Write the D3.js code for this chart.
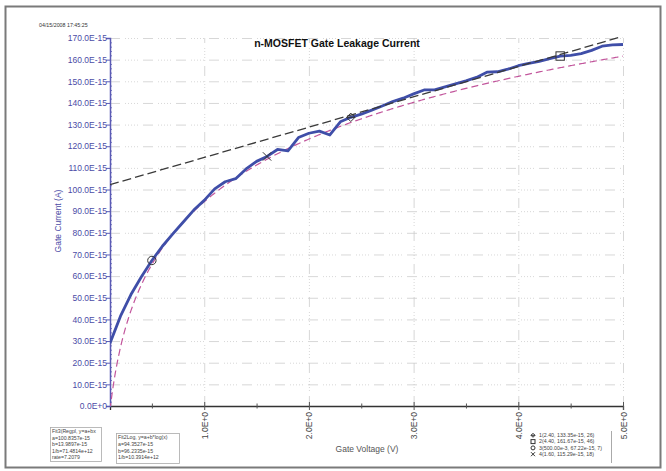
<!DOCTYPE html>
<html><head><meta charset="utf-8">
<script src="https://cdn.jsdelivr.net/npm/d3@7"></script>
<style>body{margin:0;background:#fff}svg{display:block;font-family:"Liberation Sans",Arial,sans-serif}</style>
</head><body><svg id="c" width="666" height="471"></svg>
<script>
// ---- data (currents in units of 1e-15 A) ----
const voltages = [0.1,0.2,0.3,0.4,0.5,0.6,0.7,0.8,0.9,1.0,1.1,1.2,1.3,1.4,1.5,1.6,1.7,1.8,1.9,2.0,2.1,2.2,2.3,2.4,2.5,2.6,2.7,2.8,2.9,3.0,3.1,3.2,3.3,3.4,3.5,3.6,3.7,3.8,3.9,4.0,4.1,4.2,4.3,4.4,4.5,4.6,4.7,4.8,4.9,5.0];
const currents = [29,41.5,51.5,59.7,67.2,73.8,79.5,85,90.5,95,100.3,103.6,105,109.5,113,115.3,118.5,117.9,124,126,127,125.2,131.3,133.35,134.8,136.7,138.6,140.6,142.2,144.2,146,146,147.4,148.8,150.2,151.8,154.2,154.4,155.6,157.2,158.3,159.2,160.5,161.67,162,162.8,164.3,166.2,166.8,167];
const yTicks = [0,10,20,30,40,50,60,70,80,90,100,110,120,130,140,150,160,170];
const yTickLabels = ["0.0E+0","10.0E-15","20.0E-15","30.0E-15","40.0E-15","50.0E-15","60.0E-15","70.0E-15","80.0E-15","90.0E-15","100.0E-15","110.0E-15","120.0E-15","130.0E-15","140.0E-15","150.0E-15","160.0E-15","170.0E-15"];
const xTicks = [1,2,3,4,5];
const xTickLabels = ["1.0E+0","2.0E+0","3.0E+0","4.0E+0","5.0E+0"];
const xMinor = [0.5,1.5,2.5,3.5,4.5];
// fit parameters
const linFit = {a:100.8357, b:13.9897};
const logFit = {a:94.3527, b:96.2335};
// marked points
const markerX = [2.4,4.4,0.5,1.6];
const markerY = [133.35,161.67,67.22,115.29];
const markerType = ["diamond","square","circle","x"];
const markerLabels = ["1(2.40, 133.35e-15, 26)","2(4.40, 161.67e-15, 46)","3(500.00e-3, 67.22e-15, 7)","4(1.60, 115.29e-15, 18)"];
const fit1Lines = ["Fit3(Regpl, y=a+bx","a=100.8357e-15","b=13.9897e-15","1/b=71.4814e+12","rate=7.2079"];
const fit2Lines = ["Fit2Log, y=a+b*log(x)","a=94.3527e-15","b=96.2335e-15","1/b=10.3914e+12"];

const svg = d3.select("#c");
const x = d3.scaleLinear().domain([0.1,5.0]).range([110,623]);
const y = d3.scaleLinear().domain([0,170]).range([406,38]);
const blue = "#3f4ea8", axisBlue="#5a5ab4";

// frame
svg.append("rect").attr("x",5.5).attr("y",6.5).attr("width",655).attr("height",461)
  .attr("fill","none").attr("stroke","#7a7a7a").attr("stroke-width",2);

// grid
const grid = svg.append("g").attr("stroke","#cdcdcd").attr("stroke-width",0.8)
  .attr("stroke-dasharray","10,5,1,2,1,2,1,2,1,2,1,5");
grid.selectAll("line.h").data(yTicks.slice(1)).join("line")
  .attr("x1",x(0.1)).attr("x2",x(5)).attr("y1",d=>y(d)+0.5).attr("y2",d=>y(d)+0.5);
grid.selectAll("line.v").data(xTicks).join("line")
  .attr("y1",y(0)).attr("y2",y(170)).attr("x1",d=>x(d)+0.5).attr("x2",d=>x(d)+0.5);

// clip
svg.append("clipPath").attr("id","pc").append("rect")
  .attr("x",x(0.1)).attr("y",y(170)-1).attr("width",x(5)-x(0.1)+1).attr("height",y(0)-y(170)+1);

// x axis
const xa = svg.append("g").attr("transform",`translate(0,${y(0)})`)
  .call(d3.axisBottom(x).tickValues(xTicks).tickSize(4).tickFormat(""));
xa.select(".domain").attr("stroke","#333").attr("stroke-width",1.3);
xa.selectAll(".tick line").attr("stroke","#555").attr("y1",-4);
xa.selectAll(".tick").append("text").attr("fill","#444").attr("font-size","8.5px")
  .attr("text-anchor","end").attr("transform","translate(3,6) rotate(-90)")
  .text((d,i)=>xTickLabels[i]);
svg.append("g").selectAll("line").data(xMinor).join("line")
  .attr("x1",d=>x(d)+0.5).attr("x2",d=>x(d)+0.5).attr("y1",y(0)-2.5).attr("y2",y(0)+2.5)
  .attr("stroke","#555");

// y axis
const ya = svg.append("g").attr("transform",`translate(${x(0.1)},0)`)
  .call(d3.axisLeft(y).tickValues(yTicks).tickSize(4).tickFormat((d,i)=>yTickLabels[i]));
ya.select(".domain").attr("stroke",axisBlue).attr("stroke-width",1.5);
ya.selectAll(".tick line").attr("stroke",axisBlue);
ya.selectAll(".tick text").attr("fill","#4b4ba6").attr("font-size","8.5px").attr("x",-3)
  .attr("font-family","'Liberation Sans',Arial,sans-serif");
const yMinor = d3.range(0,170,2).filter(v=>v%10!==0);
svg.append("g").selectAll("line").data(yMinor).join("line")
  .attr("x1",x(0.1)).attr("x2",x(0.1)+2).attr("y1",d=>y(d)+0.5).attr("y2",d=>y(d)+0.5)
  .attr("stroke",axisBlue).attr("stroke-width",0.8);

// fit curves
const plot = svg.append("g").attr("clip-path","url(#pc)");
const fineX = d3.range(0.1,5.0001,0.01);
const lineGen = d3.line().x(d=>x(d[0])).y(d=>y(d[1]));
plot.append("path").datum(fineX.map(v=>[v,logFit.a+logFit.b*Math.log10(v)]).filter(d=>d[1]>-5))
  .attr("d",lineGen).attr("fill","none").attr("stroke","#c2569c").attr("stroke-width",1.2)
  .attr("stroke-dasharray","7,4");
// measured
plot.append("path").datum(voltages.map((v,i)=>[v,currents[i]]))
  .attr("d",lineGen).attr("fill","none").attr("stroke",blue).attr("stroke-width",2.8)
  .attr("stroke-linejoin","round");
plot.append("path").datum([0.1,5.0].map(v=>[v,linFit.a+linFit.b*v]))
  .attr("d",lineGen).attr("fill","none").attr("stroke","#3a3a3a").attr("stroke-width",1.3)
  .attr("stroke-dasharray","9,4");

// markers
function marker(g,type,cx,cy,s){
  const c="#333";
  if(type==="circle") g.append("circle").attr("cx",cx).attr("cy",cy).attr("r",s).attr("fill","none").attr("stroke",c);
  else if(type==="square") g.append("rect").attr("x",cx-s).attr("y",cy-s).attr("width",2*s).attr("height",2*s).attr("fill","none").attr("stroke",c);
  else if(type==="diamond") g.append("path").attr("d",`M${cx},${cy-s}L${cx+s},${cy}L${cx},${cy+s}L${cx-s},${cy}Z M${cx-s},${cy}L${cx+s},${cy}`).attr("fill","none").attr("stroke",c);
  else g.append("path").attr("d",`M${cx-s},${cy-s}L${cx+s},${cy+s}M${cx-s},${cy+s}L${cx+s},${cy-s}`).attr("fill","none").attr("stroke",c);
}
const mg = svg.append("g");
markerX.forEach((v,i)=>marker(mg,markerType[i],x(v),y(markerY[i]),4.2));

// titles
svg.append("text").attr("x",337).attr("y",47).attr("text-anchor","middle").attr("font-size","10.5px")
  .attr("font-weight","bold").attr("fill","#111").text("n-MOSFET Gate Leakage Current");
svg.append("text").attr("x",39).attr("y",27).attr("font-size","5.3px").attr("fill","#333")
  .text("04/15/2008 17:45:25");
svg.append("text").attr("transform","translate(61,221) rotate(-90)").attr("text-anchor","middle")
  .attr("font-size","8.5px").attr("fill","#4b4ba6").text("Gate Current (A)");
svg.append("text").attr("x",367).attr("y",452).attr("text-anchor","middle")
  .attr("font-size","8.5px").attr("fill","#555").text("Gate Voltage (V)");

// fit boxes
function box(x0,y0,w,h,lines,fs,lh){
  const g=svg.append("g");
  g.append("rect").attr("x",x0+0.5).attr("y",y0+0.5).attr("width",w).attr("height",h)
    .attr("fill","#fff").attr("stroke","#aaa").attr("stroke-width",0.8);
  g.selectAll("text").data(lines).join("text").attr("x",x0+2).attr("y",(d,i)=>y0+6+i*lh)
    .attr("font-size",fs+"px").attr("fill","#444").text(d=>d);
}
box(50,427,51,34,fit1Lines,5.2,6.6);
box(116,433,63,30,fit2Lines,5.2,6.8);
const lg = svg.append("g");
lg.append("line").attr("x1",611.5).attr("x2",611.5).attr("y1",431).attr("y2",463).attr("stroke","#aaa");
markerLabels.forEach((t,i)=>{
  const yy=437+i*6.3;
  marker(lg,markerType[i],533,yy-1.7,2);
  lg.append("text").attr("x",539).attr("y",yy).attr("font-size","5.3px").attr("fill","#444").text(t);
});
</script></body></html>
